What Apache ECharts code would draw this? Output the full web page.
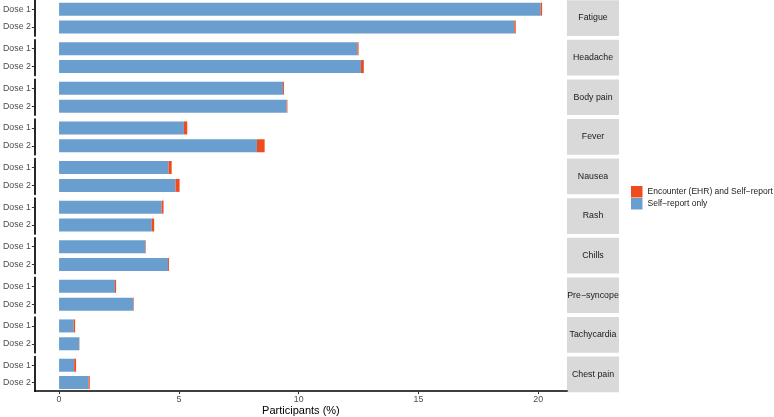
<!DOCTYPE html>
<html>
<head>
<meta charset="utf-8">
<script src="https://cdn.jsdelivr.net/npm/echarts@6/dist/echarts.min.js"></script>
<style>
html,body{margin:0;padding:0;background:#fff;}
#chart{width:774px;height:417px;}
</style>
</head>
<body>
<div id="chart"></div>
<script>
// ---- data ----
const symptoms = ['Fatigue','Headache','Body pain','Fever','Nausea','Rash','Chills','Pre−syncope','Tachycardia','Chest pain'];
const doses = ['Dose 1','Dose 2'];
const selfReportDose1 = [20.1, 12.45, 9.35, 5.21, 4.57, 4.28, 3.6, 2.33, 0.61, 0.63];
const encounterDose1  = [0.06, 0.05, 0.04, 0.14, 0.13, 0.08, 0.02, 0.05, 0.06, 0.08];
const selfReportDose2 = [19.0, 12.6, 9.5, 8.26, 4.86, 3.87, 4.55, 3.1, 0.84, 1.23];
const encounterDose2  = [0.06, 0.12, 0.03, 0.32, 0.17, 0.1, 0.04, 0.02, 0.01, 0.05];
const xTicks = [0, 5, 10, 15, 20];
const seriesNames = ['Encounter (EHR) and Self−report', 'Self−report only'];
const axisTitle = 'Participants (%)';

// ---- layout ----
const FONT = 'Liberation Sans, Arial, Helvetica, sans-serif';
const BLUE = '#6A9ECF';
const RED = '#EE4B1E';
const panelLeft = 29, panelRight = 567;
const panelH = 35.7, panelStep = 39.6, panelTop0 = 0.2;
const stripW = 52;
const xMin = -1.01, xMax = 21.2;

const chart = echarts.init(document.getElementById('chart'), null, {renderer: 'canvas'});
const grids = [], xAxes = [], yAxes = [], series = [], graphics = [];

symptoms.forEach((s, i) => {
  const top = panelTop0 + i * panelStep;
  const last = i === symptoms.length - 1;
  grids.push({left: panelLeft, width: panelRight - panelLeft, top: top, height: panelH, containLabel: false});
  xAxes.push({
    type: 'value', gridIndex: i, min: xMin, max: xMax,
    show: last,
    axisLine: {show: true, onZero: false, lineStyle: {color: '#000', width: 1.7}},
    axisTick: {show: true, length: 3, customValues: xTicks, lineStyle: {color: '#333', width: 1}},
    axisLabel: {show: true, customValues: xTicks, fontSize: 8.8, color: '#4D4D4D', margin: 4, fontFamily: FONT},
    splitLine: {show: false},
    name: last ? axisTitle : '',
    nameLocation: 'middle', nameGap: 8,
    nameTextStyle: {fontSize: 11, color: '#000', fontFamily: FONT, verticalAlign: 'top'}
  });
  yAxes.push({
    type: 'category', gridIndex: i, data: doses, inverse: true,
    axisLine: {show: true, onZero: false, lineStyle: {color: '#000', width: 1.7}},
    axisTick: {show: true, alignWithLabel: true, length: 3, lineStyle: {color: '#333', width: 1}},
    axisLabel: {fontSize: 8.8, color: '#4D4D4D', margin: 4, fontFamily: FONT},
    splitLine: {show: false}
  });
  series.push({
    type: 'bar', name: seriesNames[1], stack: 'st' + i, xAxisIndex: i, yAxisIndex: i,
    barWidth: 13, itemStyle: {color: BLUE}, silent: true,
    data: [selfReportDose1[i], selfReportDose2[i]]
  });
  series.push({
    type: 'bar', name: seriesNames[0], stack: 'st' + i, xAxisIndex: i, yAxisIndex: i,
    barWidth: 13, itemStyle: {color: RED}, silent: true,
    data: [encounterDose1[i], encounterDose2[i]]
  });
  graphics.push({
    type: 'rect', left: panelRight, top: top, silent: true,
    shape: {width: stripW, height: panelH},
    style: {fill: '#D9D9D9'}
  });
  graphics.push({
    type: 'text', silent: true,
    x: panelRight + stripW / 2, y: top + panelH / 2,
    style: {text: s, fill: '#1A1A1A', font: '8.8px ' + FONT, textAlign: 'center', textVerticalAlign: 'middle'}
  });
});

chart.setOption({
  animation: false,
  backgroundColor: '#fff',
  textStyle: {fontFamily: FONT},
  grid: grids, xAxis: xAxes, yAxis: yAxes, series: series,
  graphic: graphics,
  legend: {
    data: seriesNames, orient: 'vertical', left: 631, top: 186,
    icon: 'rect', itemWidth: 11.5, itemHeight: 11.5, itemGap: 0.5,
    selectedMode: false,
    textStyle: {fontSize: 8.5, color: '#1A1A1A', fontFamily: FONT},
    padding: 0
  }
});
</script>
</body>
</html>
